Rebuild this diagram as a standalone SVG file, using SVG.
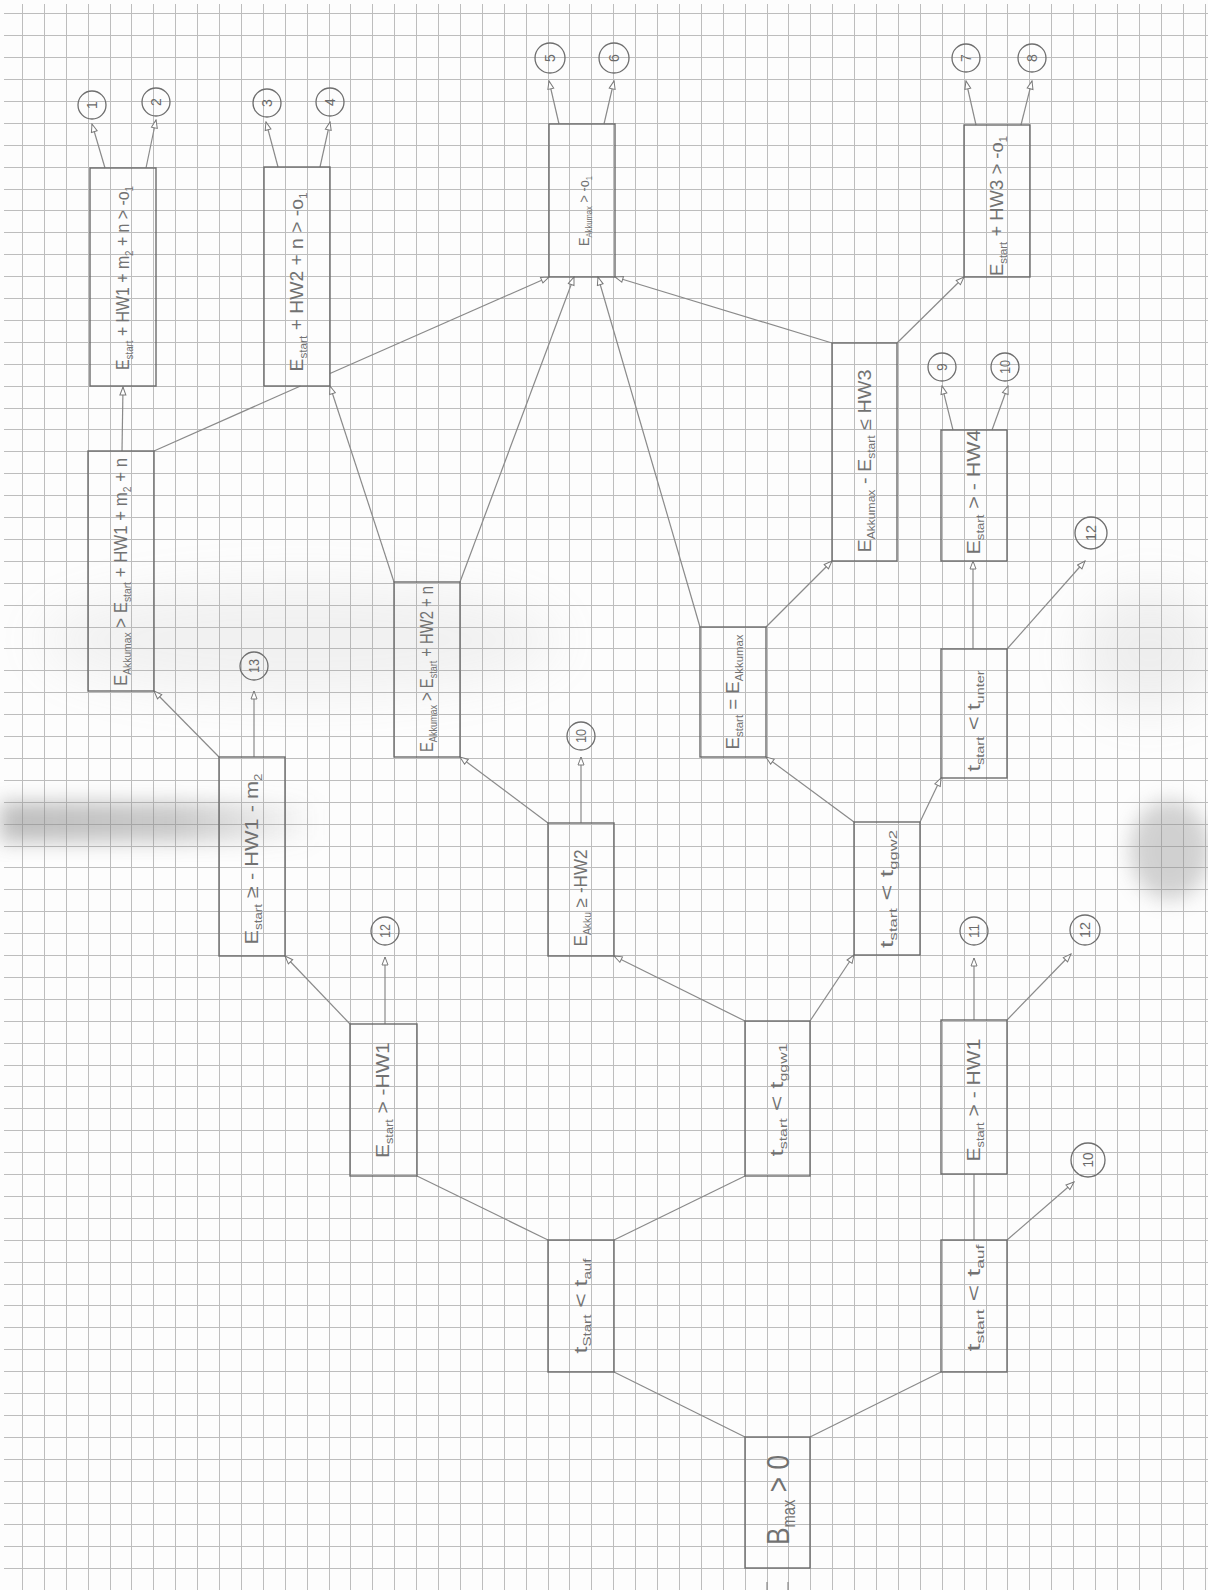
<svg xmlns="http://www.w3.org/2000/svg" width="1208" height="1590" viewBox="0 0 1208 1590">
<defs>
<filter id="blur" x="-50%" y="-50%" width="200%" height="200%"><feGaussianBlur stdDeviation="10"/></filter>
<filter id="blur2" x="-50%" y="-50%" width="200%" height="200%"><feGaussianBlur stdDeviation="25"/></filter>
<linearGradient id="band" x1="0" y1="0" x2="1" y2="0"><stop offset="0" stop-color="#8a8a8a" stop-opacity="0.55"/><stop offset="0.55" stop-color="#8a8a8a" stop-opacity="0.45"/><stop offset="1" stop-color="#8a8a8a" stop-opacity="0"/></linearGradient>
<marker id="ah" viewBox="0 0 10 8" refX="9" refY="4" markerWidth="10" markerHeight="8" markerUnits="userSpaceOnUse" orient="auto"><path d="M1,1 L9,4 L1,7 z" fill="#fff" stroke="#7a7a7a" stroke-width="1"/></marker>
</defs>
<style>
.grid{stroke:#bdbdbd;stroke-width:1;fill:none}
.box{fill:none;stroke:#6b6b6b;stroke-width:1.4}
.ln line{stroke:#8a8a8a;stroke-width:1.2;fill:none}
.ln line.a{marker-end:url(#ah)}
.t{font-family:"Liberation Sans",Arial,sans-serif;fill:#727272;font-size:18px}
.s{font-size:11px}
.cir{fill:none;stroke:#6e6e6e;stroke-width:1.3}
.num{font-family:"Liberation Sans",Arial,sans-serif;fill:#6a6a6a;font-size:14px}
</style>
<rect width="1208" height="1590" fill="#fdfdfd"/>
<path class="grid" d="M22.5 4V1590M44.5 4V1590M66.5 4V1590M88.5 4V1590M110.5 4V1590M131.5 4V1590M153.5 4V1590M175.5 4V1590M197.5 4V1590M219.5 4V1590M241.5 4V1590M263.5 4V1590M285.5 4V1590M307.5 4V1590M329.5 4V1590M350.5 4V1590M372.5 4V1590M394.5 4V1590M416.5 4V1590M438.5 4V1590M460.5 4V1590M482.5 4V1590M504.5 4V1590M526.5 4V1590M548.5 4V1590M569.5 4V1590M591.5 4V1590M613.5 4V1590M635.5 4V1590M657.5 4V1590M679.5 4V1590M701.5 4V1590M723.5 4V1590M745.5 4V1590M767.5 4V1590M788.5 4V1590M810.5 4V1590M832.5 4V1590M854.5 4V1590M876.5 4V1590M898.5 4V1590M920.5 4V1590M942.5 4V1590M964.5 4V1590M986.5 4V1590M1007.5 4V1590M1029.5 4V1590M1051.5 4V1590M1073.5 4V1590M1095.5 4V1590M1117.5 4V1590M1139.5 4V1590M1161.5 4V1590M1183.5 4V1590M1205.5 4V1590
M4 13.5H1208M4 35.5H1208M4 57.5H1208M4 79.5H1208M4 101.5H1208M4 123.5H1208M4 145.5H1208M4 167.5H1208M4 189.5H1208M4 210.5H1208M4 232.5H1208M4 254.5H1208M4 276.5H1208M4 298.5H1208M4 320.5H1208M4 342.5H1208M4 364.5H1208M4 386.5H1208M4 408.5H1208M4 429.5H1208M4 451.5H1208M4 473.5H1208M4 495.5H1208M4 517.5H1208M4 539.5H1208M4 561.5H1208M4 583.5H1208M4 605.5H1208M4 627.5H1208M4 648.5H1208M4 670.5H1208M4 692.5H1208M4 714.5H1208M4 736.5H1208M4 758.5H1208M4 780.5H1208M4 802.5H1208M4 824.5H1208M4 846.5H1208M4 867.5H1208M4 889.5H1208M4 911.5H1208M4 933.5H1208M4 955.5H1208M4 977.5H1208M4 999.5H1208M4 1021.5H1208M4 1043.5H1208M4 1065.5H1208M4 1086.5H1208M4 1108.5H1208M4 1130.5H1208M4 1152.5H1208M4 1174.5H1208M4 1196.5H1208M4 1218.5H1208M4 1240.5H1208M4 1262.5H1208M4 1284.5H1208M4 1305.5H1208M4 1327.5H1208M4 1349.5H1208M4 1371.5H1208M4 1393.5H1208M4 1415.5H1208M4 1437.5H1208M4 1459.5H1208M4 1481.5H1208M4 1503.5H1208M4 1524.5H1208M4 1546.5H1208M4 1568.5H1208"/>
<g id="shading">
<rect x="0" y="802" width="320" height="40" fill="url(#band)" filter="url(#blur)"/>
<ellipse cx="1170" cy="850" rx="40" ry="50" fill="#8a8a8a" opacity="0.38" filter="url(#blur)"/>
<ellipse cx="300" cy="640" rx="260" ry="55" fill="#9a9a9a" opacity="0.12" filter="url(#blur2)"/>
<ellipse cx="1150" cy="650" rx="70" ry="60" fill="#9a9a9a" opacity="0.15" filter="url(#blur2)"/>
</g>

<g id="connectors" class="ln">
<line x1="745" y1="1437" x2="614" y2="1372"/>
<line x1="810" y1="1437" x2="941" y2="1372"/>
<line x1="548" y1="1240" x2="417" y2="1176"/>
<line x1="614" y1="1240" x2="745" y2="1176"/>
<line x1="974" y1="1240" x2="974" y2="1174"/>
<line class="a" x1="1007" y1="1240" x2="1074" y2="1182"/>
<line class="a" x1="385" y1="1024" x2="385" y2="957"/>
<line class="a" x1="350" y1="1024" x2="285" y2="956"/>
<line class="a" x1="745" y1="1021" x2="614" y2="956"/>
<line class="a" x1="810" y1="1021" x2="854" y2="955"/>
<line class="a" x1="974" y1="1020" x2="974" y2="958"/>
<line class="a" x1="1007" y1="1020" x2="1071" y2="954"/>
<line class="a" x1="219" y1="757" x2="154" y2="691"/>
<line class="a" x1="254" y1="757" x2="254" y2="691"/>
<line class="a" x1="548" y1="823" x2="460" y2="757"/>
<line class="a" x1="581" y1="823" x2="581" y2="757"/>
<line class="a" x1="854" y1="822" x2="766" y2="757"/>
<line class="a" x1="920" y1="822" x2="941" y2="778"/>
<line class="a" x1="122" y1="451" x2="123" y2="387"/>
<line x1="154" y1="451" x2="300.5" y2="386"/>
<line class="a" x1="330" y1="373.5" x2="549" y2="277"/>
<line class="a" x1="394" y1="582" x2="330" y2="386"/>
<line class="a" x1="460" y1="582" x2="574" y2="277"/>
<line class="a" x1="700" y1="627" x2="598" y2="277"/>
<line class="a" x1="766" y1="627" x2="832" y2="561"/>
<line class="a" x1="973" y1="649" x2="973" y2="561"/>
<line class="a" x1="1007" y1="649" x2="1085" y2="561"/>
<line class="a" x1="832" y1="343" x2="615" y2="277"/>
<line class="a" x1="897" y1="343" x2="964" y2="277"/>
<line class="a" x1="105" y1="168" x2="92" y2="124"/>
<line class="a" x1="146" y1="168" x2="156" y2="120"/>
<line class="a" x1="278" y1="167" x2="266" y2="122"/>
<line class="a" x1="320" y1="167" x2="330" y2="122"/>
<line class="a" x1="559" y1="124" x2="549" y2="81"/>
<line class="a" x1="604" y1="124" x2="614" y2="81"/>
<line class="a" x1="976" y1="125" x2="966" y2="81"/>
<line class="a" x1="1021" y1="125" x2="1032" y2="81"/>
<line class="a" x1="953" y1="430" x2="942" y2="386"/>
<line class="a" x1="992" y1="430" x2="1008" y2="386"/>
<line x1="767" y1="1582" x2="767" y2="1590"/>
<line x1="788" y1="1582" x2="788" y2="1590"/>
</g>

<g id="n_root"><rect class="box" x="745" y="1437" width="65" height="131"/>
<text class="t" style="font-size:32px" transform="translate(778,1500) rotate(-90)" text-anchor="middle" y="11" textLength="90" lengthAdjust="spacingAndGlyphs">B<tspan style="font-size:18px" dy="6">max</tspan><tspan dy="-6"> &gt; 0</tspan></text></g>

<g id="n_tauf1"><rect class="box" x="548" y="1240" width="66" height="132"/>
<text class="t" transform="translate(581,1306) rotate(-90)" text-anchor="middle" y="6" textLength="95" lengthAdjust="spacingAndGlyphs">t<tspan class="s" dy="4">Start</tspan><tspan dy="-4"> &lt; t</tspan><tspan class="s" dy="4">auf</tspan></text></g>

<g id="n_tauf2"><rect class="box" x="941" y="1240" width="66" height="132"/>
<text class="t" transform="translate(974,1298) rotate(-90)" text-anchor="middle" y="6" textLength="107" lengthAdjust="spacingAndGlyphs">t<tspan class="s" dy="4">start</tspan><tspan dy="-4"> &lt; t</tspan><tspan class="s" dy="4">auf</tspan></text></g>

<g id="n_hw1a"><rect class="box" x="350" y="1024" width="67" height="152"/>
<text class="t" transform="translate(383,1100) rotate(-90)" text-anchor="middle" y="6" textLength="116" lengthAdjust="spacingAndGlyphs">E<tspan class="s" dy="4">start</tspan><tspan dy="-4"> &gt; -HW1</tspan></text></g>

<g id="n_ggw1"><rect class="box" x="745" y="1021" width="65" height="155"/>
<text class="t" transform="translate(777,1100) rotate(-90)" text-anchor="middle" y="6" textLength="113" lengthAdjust="spacingAndGlyphs">t<tspan class="s" dy="4">start</tspan><tspan dy="-4"> &lt; t</tspan><tspan class="s" dy="4">ggw1</tspan></text></g>

<g id="n_hw1b"><rect class="box" x="941" y="1020" width="66" height="154"/>
<text class="t" transform="translate(974,1100) rotate(-90)" text-anchor="middle" y="6" textLength="123" lengthAdjust="spacingAndGlyphs">E<tspan class="s" dy="4">start</tspan><tspan dy="-4"> &gt; - HW1</tspan></text></g>

<g id="n_hw1m2"><rect class="box" x="219" y="757" width="66" height="199"/>
<text class="t" transform="translate(252,859) rotate(-90)" text-anchor="middle" y="6" textLength="171" lengthAdjust="spacingAndGlyphs">E<tspan class="s" dy="4">start</tspan><tspan dy="-4"> ≥ - HW1 - m</tspan><tspan class="s" dy="4">2</tspan></text></g>

<g id="n_akku"><rect class="box" x="548" y="823" width="66" height="133"/>
<text class="t" transform="translate(581,898) rotate(-90)" text-anchor="middle" y="6" textLength="97" lengthAdjust="spacingAndGlyphs">E<tspan class="s" dy="4">Akku</tspan><tspan dy="-4"> ≥ -HW2</tspan></text></g>

<g id="n_ggw2"><rect class="box" x="854" y="822" width="66" height="133"/>
<text class="t" transform="translate(887,889) rotate(-90)" text-anchor="middle" y="6" textLength="118" lengthAdjust="spacingAndGlyphs">t<tspan class="s" dy="4">start</tspan><tspan dy="-4"> &lt; t</tspan><tspan class="s" dy="4">ggw2</tspan></text></g>

<g id="n_max1"><rect class="box" x="88" y="451" width="66" height="240"/>
<text class="t" transform="translate(121,572) rotate(-90)" text-anchor="middle" y="6" textLength="228" lengthAdjust="spacingAndGlyphs">E<tspan class="s" dy="4">Akkumax</tspan><tspan dy="-4"> &gt; E</tspan><tspan class="s" dy="4">start</tspan><tspan dy="-4"> + HW1 + m</tspan><tspan class="s" dy="4">2</tspan><tspan dy="-4"> + n</tspan></text></g>

<g id="n_max2"><rect class="box" x="394" y="582" width="66" height="175"/>
<text class="t" transform="translate(427,669) rotate(-90)" text-anchor="middle" y="6" textLength="166" lengthAdjust="spacingAndGlyphs">E<tspan class="s" dy="4">Akkumax</tspan><tspan dy="-4"> &gt; E</tspan><tspan class="s" dy="4">start</tspan><tspan dy="-4"> + HW2 + n</tspan></text></g>

<g id="n_eq"><rect class="box" x="700" y="627" width="66" height="130"/>
<text class="t" transform="translate(733,692) rotate(-90)" text-anchor="middle" y="6" textLength="115" lengthAdjust="spacingAndGlyphs">E<tspan class="s" dy="4">start</tspan><tspan dy="-4"> = E</tspan><tspan class="s" dy="4">Akkumax</tspan></text></g>

<g id="n_unter"><rect class="box" x="941" y="649" width="66" height="129"/>
<text class="t" transform="translate(974,721) rotate(-90)" text-anchor="middle" y="6" textLength="101" lengthAdjust="spacingAndGlyphs">t<tspan class="s" dy="4">start</tspan><tspan dy="-4"> &lt; t</tspan><tspan class="s" dy="4">unter</tspan></text></g>

<g id="n_o1a"><rect class="box" x="90" y="168" width="66" height="218"/>
<text class="t" transform="translate(123,278) rotate(-90)" text-anchor="middle" y="6" textLength="184" lengthAdjust="spacingAndGlyphs">E<tspan class="s" dy="4">start</tspan><tspan dy="-4"> + HW1 + m</tspan><tspan class="s" dy="4">2</tspan><tspan dy="-4"> + n &gt; -o</tspan><tspan class="s" dy="4">1</tspan></text></g>

<g id="n_o1b"><rect class="box" x="264" y="167" width="66" height="219"/>
<text class="t" transform="translate(297,282) rotate(-90)" text-anchor="middle" y="6" textLength="179" lengthAdjust="spacingAndGlyphs">E<tspan class="s" dy="4">start</tspan><tspan dy="-4"> + HW2 + n &gt; -o</tspan><tspan class="s" dy="4">1</tspan></text></g>

<g id="n_o1c"><rect class="box" x="549" y="124" width="66" height="153"/>
<text class="t" style="font-size:15px" transform="translate(584,211) rotate(-90)" text-anchor="middle" y="5" textLength="70" lengthAdjust="spacingAndGlyphs">E<tspan style="font-size:9px" dy="3">Akkumax</tspan><tspan dy="-3"> &gt; -o</tspan><tspan style="font-size:9px" dy="3">1</tspan></text></g>

<g id="n_hw3"><rect class="box" x="832" y="343" width="65" height="218"/>
<text class="t" transform="translate(865,461) rotate(-90)" text-anchor="middle" y="6" textLength="183" lengthAdjust="spacingAndGlyphs">E<tspan class="s" dy="4">Akkumax</tspan><tspan dy="-4"> - E</tspan><tspan class="s" dy="4">start</tspan><tspan dy="-4"> ≤ HW3</tspan></text></g>

<g id="n_hw4"><rect class="box" x="941" y="430" width="66" height="131"/>
<text class="t" transform="translate(974,492) rotate(-90)" text-anchor="middle" y="6" textLength="125" lengthAdjust="spacingAndGlyphs">E<tspan class="s" dy="4">start</tspan><tspan dy="-4"> &gt; - HW4</tspan></text></g>

<g id="n_o1d"><rect class="box" x="964" y="125" width="66" height="152"/>
<text class="t" transform="translate(997,206) rotate(-90)" text-anchor="middle" y="6" textLength="140" lengthAdjust="spacingAndGlyphs">E<tspan class="s" dy="4">start</tspan><tspan dy="-4"> + HW3 &gt; -o</tspan><tspan class="s" dy="4">1</tspan></text></g>

<g id="c1"><circle class="cir" cx="92" cy="105" r="14"/><text class="num" transform="translate(92,105) rotate(-90)" text-anchor="middle" y="5">1</text></g>
<g id="c2"><circle class="cir" cx="156" cy="102" r="14"/><text class="num" transform="translate(156,102) rotate(-90)" text-anchor="middle" y="5">2</text></g>
<g id="c3"><circle class="cir" cx="267" cy="103" r="14"/><text class="num" transform="translate(267,103) rotate(-90)" text-anchor="middle" y="5">3</text></g>
<g id="c4"><circle class="cir" cx="330" cy="102" r="14"/><text class="num" transform="translate(330,102) rotate(-90)" text-anchor="middle" y="5">4</text></g>
<g id="c5"><circle class="cir" cx="550" cy="58" r="15"/><text class="num" transform="translate(550,58) rotate(-90)" text-anchor="middle" y="5">5</text></g>
<g id="c6"><circle class="cir" cx="614" cy="58" r="15"/><text class="num" transform="translate(614,58) rotate(-90)" text-anchor="middle" y="5">6</text></g>
<g id="c7"><circle class="cir" cx="966" cy="58" r="14"/><text class="num" transform="translate(966,58) rotate(-90)" text-anchor="middle" y="5">7</text></g>
<g id="c8"><circle class="cir" cx="1032" cy="58" r="14"/><text class="num" transform="translate(1032,58) rotate(-90)" text-anchor="middle" y="5">8</text></g>
<g id="c9"><circle class="cir" cx="942" cy="367" r="14"/><text class="num" transform="translate(942,367) rotate(-90)" text-anchor="middle" y="5">9</text></g>
<g id="c10a"><circle class="cir" cx="1005" cy="367" r="14"/><text class="num" transform="translate(1005,367) rotate(-90)" text-anchor="middle" y="5" textLength="14" lengthAdjust="spacingAndGlyphs">10</text></g>
<g id="c13"><circle class="cir" cx="254" cy="666" r="14"/><text class="num" transform="translate(254,666) rotate(-90)" text-anchor="middle" y="5" textLength="14" lengthAdjust="spacingAndGlyphs">13</text></g>
<g id="c10b"><circle class="cir" cx="581" cy="736" r="14"/><text class="num" transform="translate(581,736) rotate(-90)" text-anchor="middle" y="5" textLength="14" lengthAdjust="spacingAndGlyphs">10</text></g>
<g id="c12a"><circle class="cir" cx="385" cy="931" r="14"/><text class="num" transform="translate(385,931) rotate(-90)" text-anchor="middle" y="5" textLength="14" lengthAdjust="spacingAndGlyphs">12</text></g>
<g id="c12b"><circle class="cir" cx="1091" cy="533" r="16"/><text class="num" transform="translate(1091,533) rotate(-90)" text-anchor="middle" y="5" textLength="16" lengthAdjust="spacingAndGlyphs">12</text></g>
<g id="c11"><circle class="cir" cx="974" cy="931" r="14"/><text class="num" transform="translate(974,931) rotate(-90)" text-anchor="middle" y="5" textLength="14" lengthAdjust="spacingAndGlyphs">11</text></g>
<g id="c12c"><circle class="cir" cx="1085" cy="930" r="15"/><text class="num" transform="translate(1085,930) rotate(-90)" text-anchor="middle" y="5" textLength="16" lengthAdjust="spacingAndGlyphs">12</text></g>
<g id="c10c"><circle class="cir" cx="1088" cy="1160" r="17"/><text class="num" transform="translate(1088,1160) rotate(-90)" text-anchor="middle" y="5" textLength="15" lengthAdjust="spacingAndGlyphs">10</text></g>
</svg>
